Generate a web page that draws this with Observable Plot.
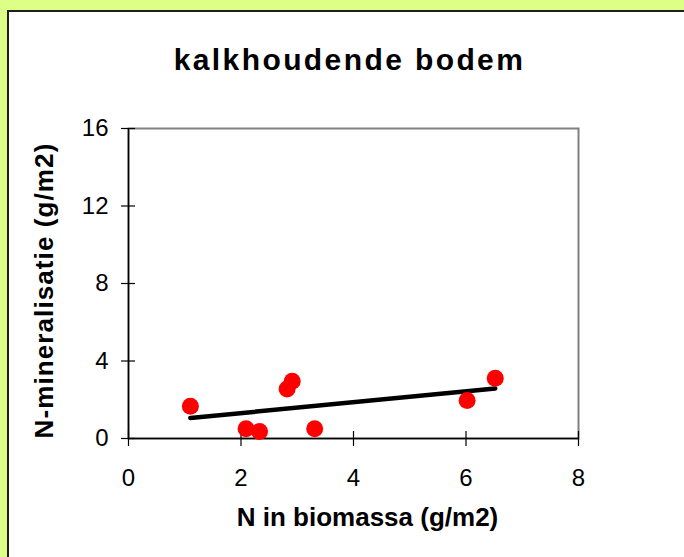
<!DOCTYPE html>
<html>
<head>
<meta charset="utf-8">
<script src="https://cdn.jsdelivr.net/npm/d3@7"></script>
<script src="https://cdn.jsdelivr.net/npm/@observablehq/plot@0.6"></script>
<style>
  html, body { margin: 0; padding: 0; }
  body { width: 684px; height: 557px; background: #ddff88; position: relative; overflow: hidden; font-family: "Liberation Sans", Arial, sans-serif; }
  #panel { position: absolute; left: 7px; top: 10px; width: 700px; height: 560px; background: #ffffff; border-left: 2px solid #1e1e1e; border-top: 2px solid #1e1e1e; }
  #title { position: absolute; left: 0; top: 45px; width: 699px; text-align: center; font-size: 30px; line-height: 30px; font-weight: bold; letter-spacing: 2.4px; color: #000; }
  #chart { position: absolute; left: 0; top: 0; }
</style>
</head>
<body>
<div id="panel"></div>
<div id="title">kalkhoudende bodem</div>
<div id="chart"></div>
<script>
// Data
const biomassN = [1.10, 2.09, 2.33, 2.82, 2.91, 3.31, 6.02, 6.52];   // N in biomassa (g/m2)
const mineralN = [1.67, 0.50, 0.36, 2.56, 2.96, 0.50, 1.96, 3.11];   // N-mineralisatie (g/m2)
const xTicks = [0, 2, 4, 6, 8];
const yTicks = [0, 4, 8, 12, 16];
const xLabel = "N in biomassa (g/m2)";
const yLabel = "N-mineralisatie (g/m2)";

const data = biomassN.map((x, i) => ({x, y: mineralN[i]}));

const chart = Plot.plot({
  width: 684,
  height: 557,
  marginLeft: 128,
  marginRight: 106,
  marginTop: 128,
  marginBottom: 119,
  style: {background: "transparent", fontFamily: "Liberation Sans, Arial, sans-serif", fontSize: "24px", color: "#000", overflow: "visible"},
  x: {domain: [0, 8], ticks: xTicks},
  y: {domain: [0, 16], ticks: yTicks},
  marks: [
    Plot.frame({stroke: "#808080", strokeWidth: 2}),
    Plot.ruleY([0], {stroke: "#000", strokeWidth: 1.5}),
    Plot.ruleX([0], {stroke: "#000", strokeWidth: 1.5}),
    // cross ticks
    Plot.axisX({ticks: xTicks, tickSize: 15, dy: -7, tickFormat: () => "", label: null, strokeWidth: 1.2}),
    Plot.axisY({ticks: yTicks, tickSize: 14, dx: 7, tickFormat: () => "", label: null, strokeWidth: 1.2}),
    // tick labels
    Plot.axisX({ticks: xTicks, tickSize: 0, tickPadding: 30, label: null}),
    Plot.axisY({ticks: yTicks, tickSize: 0, tickPadding: 20, label: null}),
    // axis titles
    Plot.text([xLabel], {frameAnchor: "bottom", textAnchor: "middle", dy: 87, dx: 14, fontWeight: "bold", fontSize: 26, fill: "#000"}),
    Plot.text([yLabel], {frameAnchor: "left", textAnchor: "middle", rotate: -90, dx: -84, dy: 7, fontWeight: "bold", fontSize: 26, fill: "#000"}),
    Plot.linearRegressionY(data, {x: "x", y: "y", stroke: "#000", strokeWidth: 4.5, ci: 0}),
    Plot.dot(data, {x: "x", y: "y", r: 8.5, fill: "#ff0000", stroke: "none"})
  ]
});
d3.select(chart).selectAll("text")
  .filter(function () { return this.textContent === yLabel; })
  .style("letter-spacing", "1.1px");
document.getElementById("chart").appendChild(chart);
</script>
</body>
</html>
